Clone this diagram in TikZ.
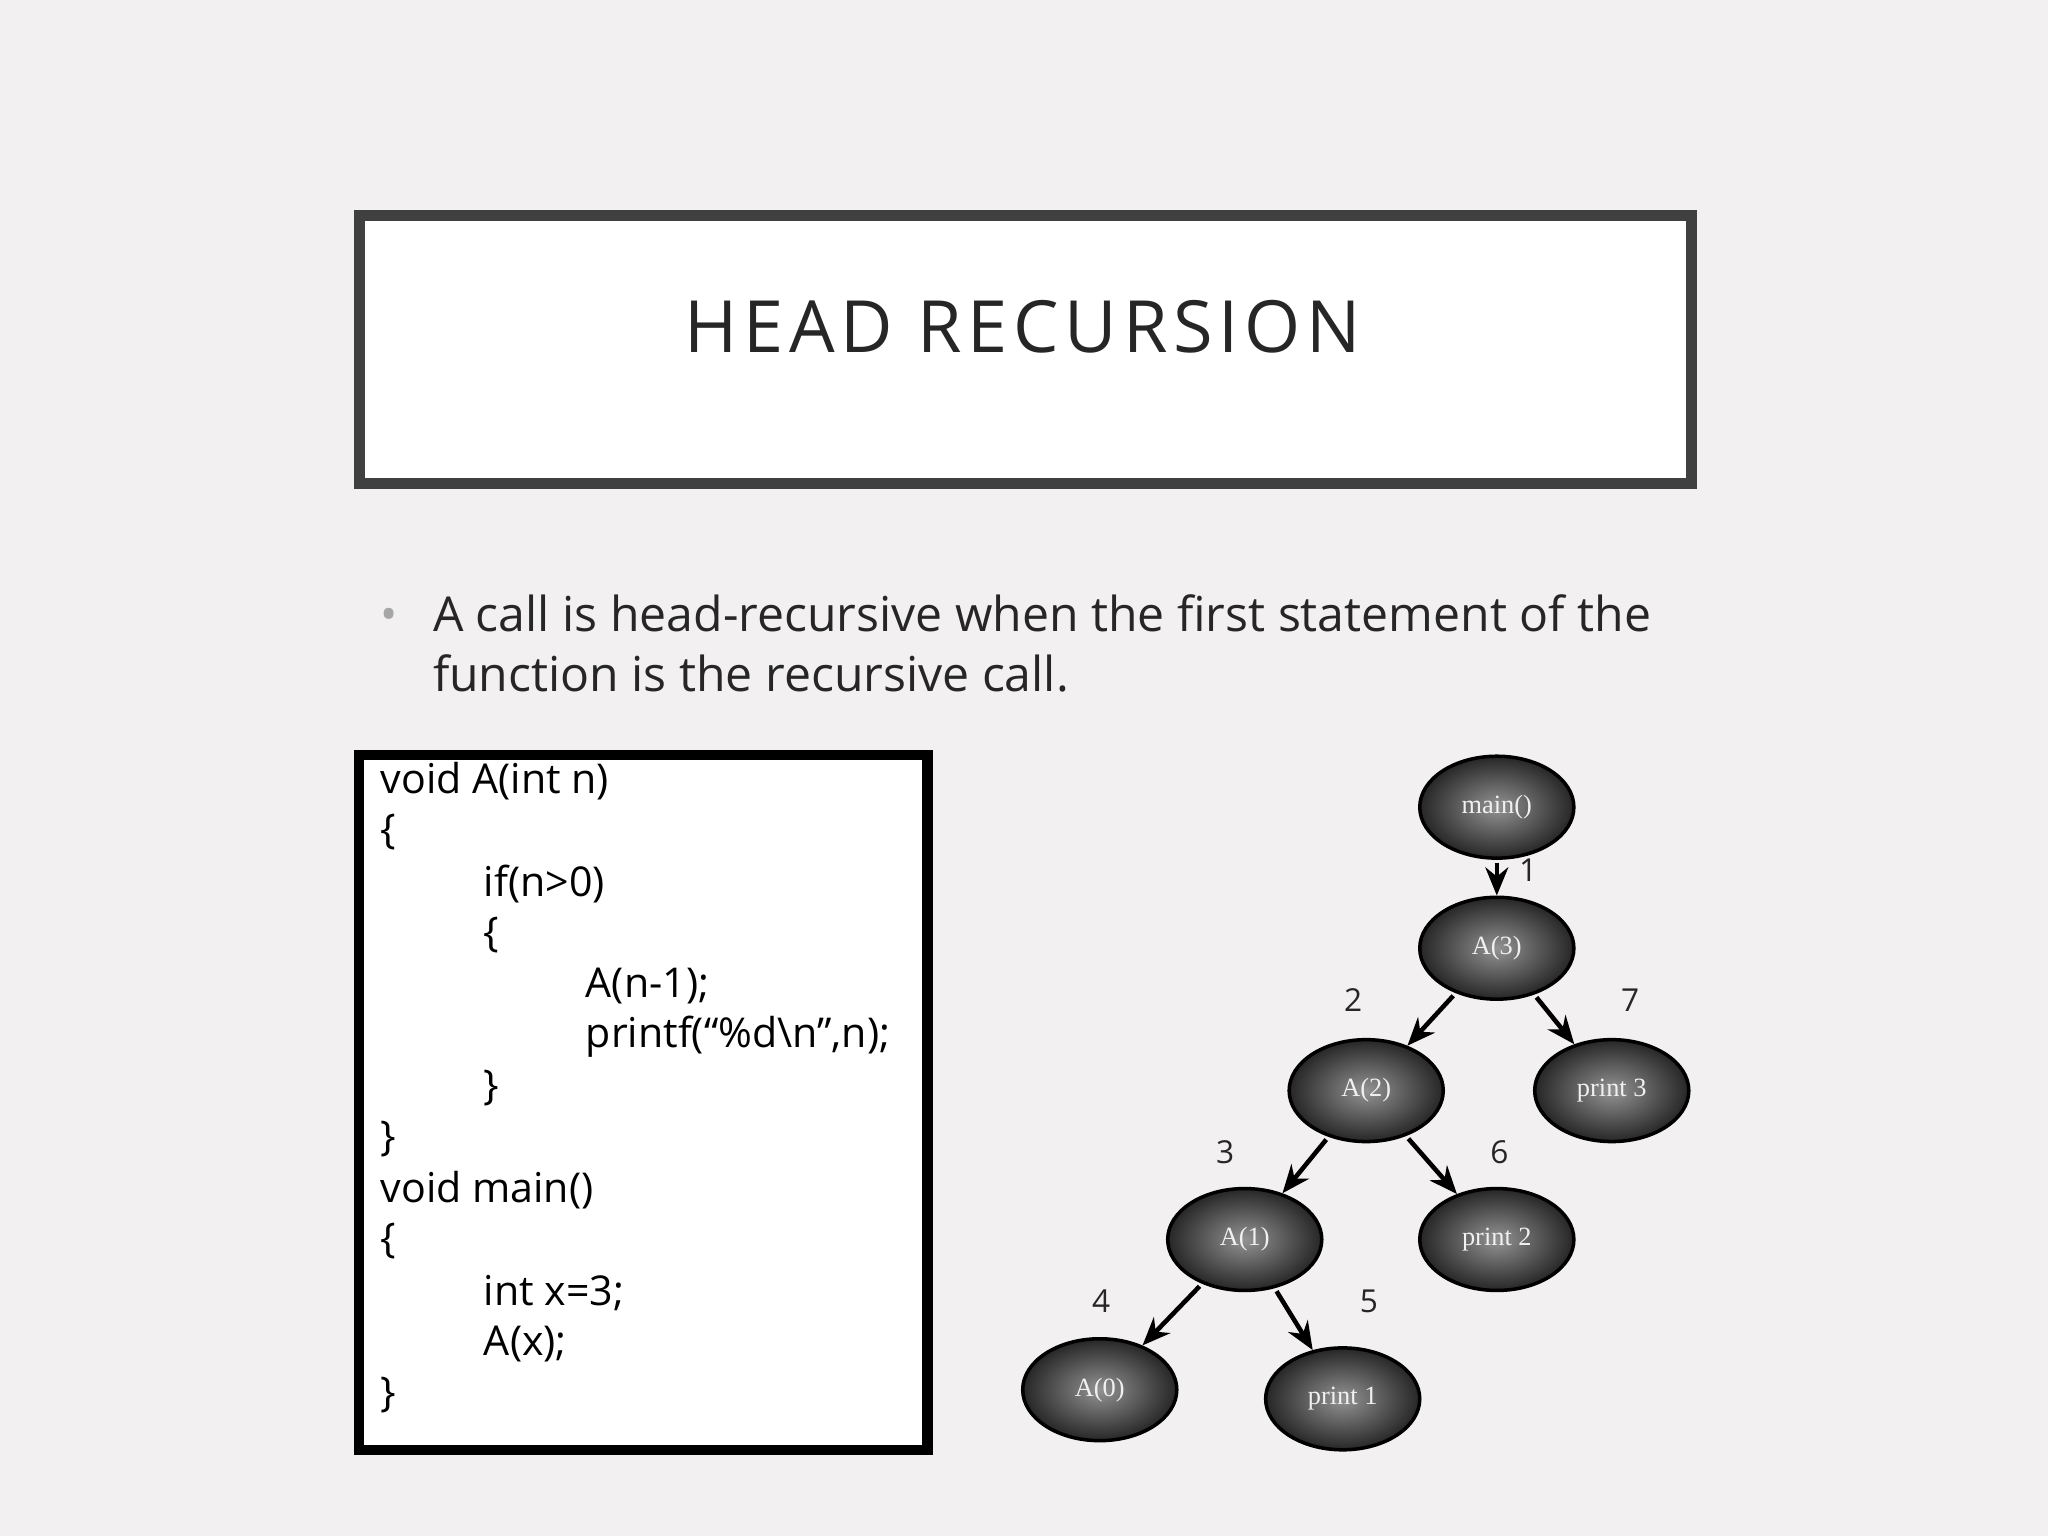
\documentclass[tikz,border=0pt]{standalone}
\usepackage{fontspec}
\setmainfont{Open Sans}
\newfontfamily\serifnode{Liberation Serif}
\usetikzlibrary{arrows.meta,shapes.geometric}
\definecolor{bg}{HTML}{F2F0F0}
\tikzset{
  tnode/.style={ellipse, draw=black, line width=1pt, minimum width=1.541cm, minimum height=1.019cm, inner sep=0,
    inner color=gray!85!white, outer color=black!85, text=white!88!gray, font=\serifnode\fontsize{7.5}{9}\selectfont},
  tarr/.style={-{Stealth[length=8pt,width=6.5pt]}, line width=1.3pt, shorten <=1pt},
  tlab/.style={font=\fontsize{9}{11}\selectfont, text=black!85},
  code/.style={anchor=west, font=\fontsize{11.7}{14}\selectfont, text=black, inner sep=0}
}
\begin{document}
\begin{tikzpicture}[x=0.01306cm, y=-0.01306cm]
\fill[bg] (0,0) rectangle (1568,1176);
\useasboundingbox (0,0) rectangle (1568,1176);
\draw[draw=black!75, line width=3.2pt, fill=white] (275,165) rectangle (1295,370);
\node[font=\fontsize{20.5}{24}\selectfont, text=black!85] (tt) at (783,250) {\addfontfeature{LetterSpace=8}HEAD RECURSION};
\node[anchor=west, text=gray!70, font=\fontsize{13}{16}\selectfont, inner sep=0] (bul) at (291,474) {•};
\node[anchor=north west, font=\fontsize{13.7}{17}\selectfont, text=black!85, inner sep=0, align=left] (btext) at (331,455) {A call is head-recursive when the first statement of the\\function is the recursive call.};
\draw[draw=black, line width=3pt, fill=white] (275,578) rectangle (710,1110);
\node[code] (c1) at (291,598) {void A(int n)};
\node[code] (c2) at (291,637) {\{};
\node[code] (c3) at (370,677) {if(n>0)};
\node[code] (c4) at (370,716) {\{};
\node[code] (c5) at (448,755) {A(n-1);};
\node[code] (c6) at (448,794) {printf(“\%d\textbackslash n”,n);};
\node[code] (c7) at (370,833) {\}};
\node[code] (c8) at (291,872) {\}};
\node[code] (c9) at (291,911) {void main()};
\node[code] (c10) at (291,950) {\{};
\node[code] (c11) at (370,990) {int x=3;};
\node[code] (c12) at (370,1029) {A(x);};
\node[code] (c13) at (291,1068) {\}};
\node[tnode] (m) at (1146,618) {main()};
\node[tnode] (a3) at (1146,726) {A(3)};
\node[tnode] (a2) at (1046,835) {A(2)};
\node[tnode] (p3) at (1234,835) {print 3};
\node[tnode] (a1) at (953,949) {A(1)};
\node[tnode] (p2) at (1146,949) {print 2};
\node[tnode] (a0) at (842,1064) {A(0)};
\node[tnode] (p1) at (1028,1071) {print 1};
\draw[tarr] (m) -- (a3);
\draw[tarr] (a3) -- (a2);
\draw[tarr] (a3) -- (p3);
\draw[tarr] (a2) -- (a1);
\draw[tarr] (a2) -- (p2);
\draw[tarr] (a1) -- (a0);
\draw[tarr] (a1) -- (p1);
\node[tlab] (l1) at (1170,666) {1};
\node[tlab] (l2) at (1036,766) {2};
\node[tlab] (l7) at (1248,766) {7};
\node[tlab] (l3) at (938,882) {3};
\node[tlab] (l6) at (1148,882) {6};
\node[tlab] (l4) at (843,996) {4};
\node[tlab] (l5) at (1048,996) {5};
\end{tikzpicture}
\end{document}
